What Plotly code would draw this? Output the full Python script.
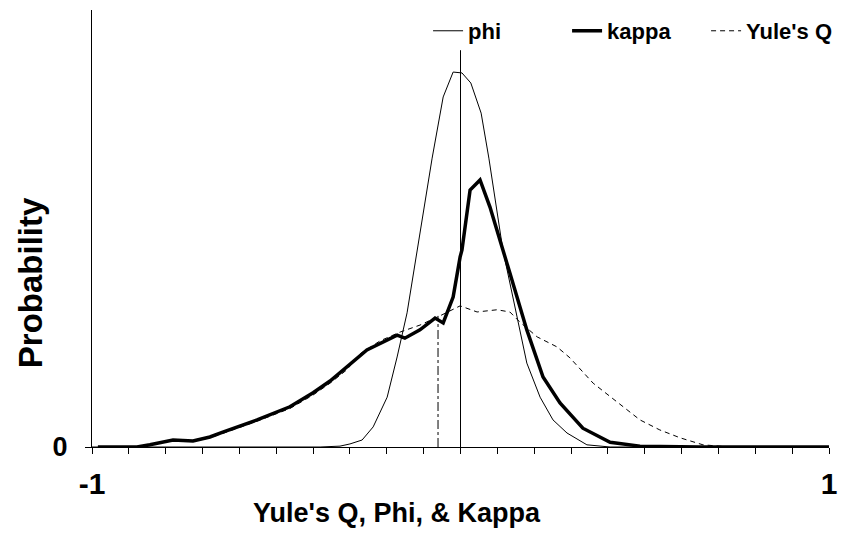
import plotly.graph_objects as go

# ---- data (x: coefficient value, y: relative probability) ----
phi_x = [-1.0, -0.381, -0.327, -0.300, -0.267, -0.237, -0.199, -0.172, -0.145, -0.118,
         -0.077, -0.047, -0.020, 0.004, 0.028, 0.056, 0.077, 0.115, 0.156, 0.180,
         0.216, 0.251, 0.289, 0.343, 0.406, 1.0]
phi_y = [0.0, 0.0, 0.002, 0.007, 0.016, 0.046, 0.114, 0.206, 0.307, 0.451,
         0.661, 0.801, 0.858, 0.856, 0.833, 0.764, 0.661, 0.451, 0.284, 0.192,
         0.114, 0.062, 0.032, 0.005, 0.0, 0.0]

kappa_x = [-0.984, -0.878, -0.843, -0.780, -0.726, -0.680, -0.645, -0.598, -0.552, -0.463,
           -0.400, -0.354, -0.308, -0.254, -0.172, -0.151, -0.110, -0.069, -0.047, -0.020,
           -0.001, 0.004, 0.026, 0.053, 0.080, 0.099, 0.134, 0.180, 0.224, 0.270,
           0.332, 0.406, 0.487, 0.650, 1.0]
kappa_y = [0.0, 0.0, 0.005, 0.016, 0.014, 0.023, 0.034, 0.048, 0.062, 0.092,
           0.124, 0.151, 0.183, 0.222, 0.256, 0.249, 0.268, 0.295, 0.284, 0.343,
           0.435, 0.451, 0.588, 0.611, 0.549, 0.497, 0.398, 0.268, 0.160, 0.101,
           0.043, 0.011, 0.002, 0.0, 0.0]

yule_x = [-0.984, -0.878, -0.843, -0.780, -0.726, -0.680, -0.645, -0.598, -0.552, -0.463,
          -0.400, -0.354, -0.308, -0.273, -0.218, -0.164, -0.110, -0.056, -0.001, 0.045,
          0.099, 0.134, 0.161, 0.208, 0.262, 0.297, 0.360, 0.425, 0.487, 0.541,
          0.596, 0.658, 0.731, 1.0]
yule_y = [0.0, 0.0, 0.005, 0.015, 0.013, 0.021, 0.031, 0.045, 0.059, 0.088,
          0.119, 0.146, 0.177, 0.213, 0.243, 0.263, 0.279, 0.300, 0.323, 0.309,
          0.314, 0.309, 0.286, 0.252, 0.229, 0.204, 0.146, 0.103, 0.062, 0.039,
          0.021, 0.005, 0.0, 0.0]

# reference markers
zero_line_x = [0.0, 0.0]
zero_line_y = [0.0, 0.908]
yule_mark_x = [-0.061, -0.061]
yule_mark_y = [0.0, 0.300]

x_ticks = [round(-1 + 0.1 * i, 1) for i in range(21)]
x_tick_text = ["-1" if t == -1 else ("1" if t == 1 else "") for t in x_ticks]

FONT = "Liberation Sans, Arial, sans-serif"

fig = go.Figure()
fig.add_trace(go.Scatter(x=zero_line_x, y=zero_line_y, mode="lines",
                         line=dict(color="black", width=1), showlegend=False,
                         hoverinfo="skip"))
fig.add_trace(go.Scatter(x=yule_mark_x, y=yule_mark_y, mode="lines",
                         line=dict(color="black", width=1, dash="dashdot"),
                         showlegend=False, hoverinfo="skip"))
fig.add_trace(go.Scatter(x=phi_x, y=phi_y, mode="lines", name="phi",
                         line=dict(color="black", width=1)))
fig.add_trace(go.Scatter(x=kappa_x, y=kappa_y, mode="lines", name="kappa",
                         line=dict(color="black", width=3.5)))
fig.add_trace(go.Scatter(x=yule_x, y=yule_y, mode="lines", name="Yule's Q",
                         line=dict(color="black", width=1, dash="5px,4px")))

fig.update_layout(
    width=842, height=537,
    margin=dict(l=92, r=13, t=10, b=90, autoexpand=False),
    paper_bgcolor="white", plot_bgcolor="white",
    font=dict(family=FONT, color="black"),
    showlegend=True,
    legend=dict(orientation="h", x=0.456, xanchor="left", y=0.952, yanchor="middle",
                font=dict(family=FONT, size=22, weight="bold"),
                entrywidth=94, entrywidthmode="pixels",
                bgcolor="rgba(0,0,0,0)", borderwidth=0, itemwidth=30),
    xaxis=dict(range=[-1, 1], showline=True, linecolor="black", linewidth=1,
               showgrid=False, zeroline=False, ticks="outside", ticklen=6,
               tickcolor="black", tickwidth=1, automargin=False,
               tickvals=x_ticks, ticktext=x_tick_text, ticklabelstandoff=4,
               tickfont=dict(family=FONT, size=30, weight="bold")),
    yaxis=dict(range=[0, 1], showline=True, linecolor="black", linewidth=1,
               showgrid=False, zeroline=False, ticks="outside", ticklen=6,
               tickcolor="black", tickwidth=1, automargin=False,
               tickvals=[0], ticktext=["0"], ticklabelstandoff=12,
               tickfont=dict(family=FONT, size=27, weight="bold")),
    annotations=[
        dict(text="Yule's Q, Phi, & Kappa", xref="paper", yref="paper",
             x=0.414, y=-0.151, xanchor="center", yanchor="middle", showarrow=False,
             font=dict(family=FONT, size=27, weight="bold")),
        dict(text="Probability", xref="paper", yref="paper", textangle=-90,
             x=-0.084, y=0.375, xanchor="center", yanchor="middle", showarrow=False,
             font=dict(family=FONT, size=33, weight="bold")),
    ],
)

fig.write_html("out.html")
